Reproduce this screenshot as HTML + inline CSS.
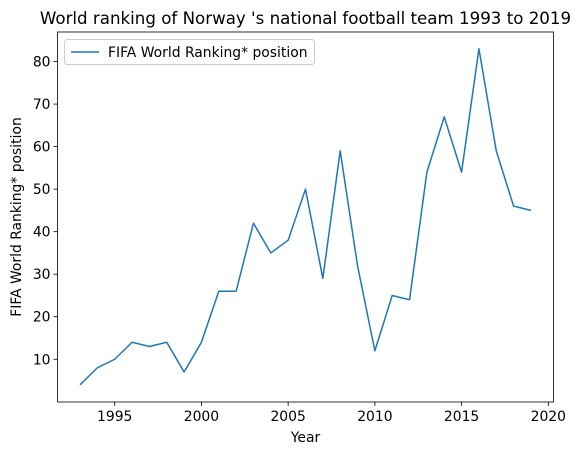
<!DOCTYPE html>
<html><head><meta charset="utf-8"><style>
body{margin:0;background:#fff;}
svg{display:block;font-family:"DejaVu Sans","Liberation Sans",sans-serif;}
</style></head><body>
<svg id="chart" width="579" height="455"></svg>
<script>
const years=[1993,1994,1995,1996,1997,1998,1999,2000,2001,2002,2003,2004,2005,2006,2007,2008,2009,2010,2011,2012,2013,2014,2015,2016,2017,2018,2019];
const positions=[4,8,10,14,13,14,7,14,26,26,42,35,38,50,29,59,32,12,25,24,54,67,54,83,59,46,45];
const xTicks=[1995,2000,2005,2010,2015,2020];
const yTicks=[10,20,30,40,50,60,70,80];
const L=57.5,R=553.5,T=32,B=402;
const xMin=1991.7,xMax=2020.3,yMin=-0.05,yMax=86.95;
const sx=v=>L+(v-xMin)/(xMax-xMin)*(R-L);
const sy=v=>B-(v-yMin)/(yMax-yMin)*(B-T);
const NS="http://www.w3.org/2000/svg";
const svg=document.getElementById('chart');
function mk(tag,attrs,text){const e=document.createElementNS(NS,tag);for(const k in attrs)e.setAttribute(k,attrs[k]);if(text!==undefined)e.textContent=text;svg.appendChild(e);return e;}
let t=mk('text',{x:(L+R)/2,y:24,'text-anchor':'middle','font-size':16.67,fill:'#000'},"World ranking of Norway 's national football team 1993 to 2019");


xTicks.forEach(v=>{const x=sx(v);
 let l=mk('line',{x1:x,x2:x,y1:B,y2:B+4,stroke:'#000','stroke-width':0.8});
 
 
 let tx=mk('text',{x:x,y:B+19,'text-anchor':'middle','font-size':13.9,fill:'#000'},String(v));
 
 
});
yTicks.forEach(v=>{const y=sy(v);
 let l=mk('line',{x1:L-4,x2:L,y1:y,y2:y,stroke:'#000','stroke-width':0.8});
 
 
 let tx=mk('text',{x:L-7,y:y+5,'text-anchor':'end','font-size':13.9,fill:'#000'},String(v));
 
 
});
let xl=mk('text',{x:(L+R)/2,y:442,'text-anchor':'middle','font-size':13.9,fill:'#000'},'Year');


let yl=mk('text',{x:0,y:0,'text-anchor':'middle','font-size':13.9,fill:'#000',transform:`translate(21,${(T+B)/2}) rotate(-90)`},'FIFA World Ranking* position');


let pts=years.map((y,i)=>sx(y).toFixed(2)+','+sy(positions[i]).toFixed(2)).join(' ');
let pl=mk('polyline',{points:pts,fill:'none',stroke:'#1f77b4','stroke-width':1.5,'stroke-linejoin':'round'});


let fr=mk('rect',{x:L,y:T,width:R-L,height:B-T,fill:'none',stroke:'#000','stroke-width':0.8});


let lg=mk('rect',{x:64.5,y:39.5,width:250,height:25,rx:3,fill:'#fff','fill-opacity':0.8,stroke:'#ccc','stroke-width':1});


let ll=mk('line',{x1:71,x2:99,y1:52,y2:52,stroke:'#1f77b4','stroke-width':1.5});


let lt=mk('text',{x:108,y:57,'font-size':13.9,fill:'#000'},'FIFA World Ranking* position');


</script>
</body></html>
